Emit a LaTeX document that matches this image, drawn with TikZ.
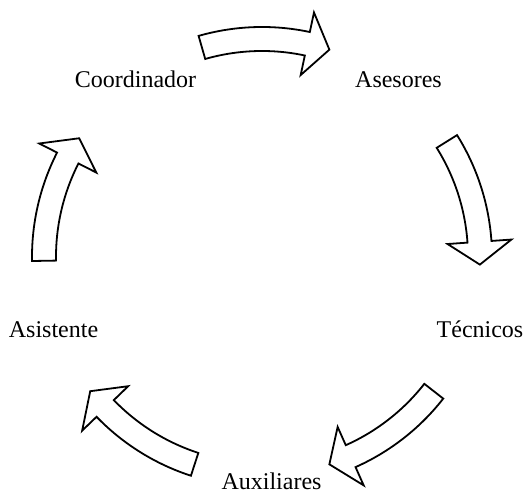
\documentclass[tikz,border=0pt]{standalone}
\usepackage{fontspec}
\setmainfont{Liberation Serif}

\tikzset{
  flecha/.style={draw=black, fill=white, line width=1.8pt, line join=miter},
  rotulo/.style={font=\fontsize{24}{28}\selectfont, anchor=base, inner sep=0pt}
}

% flecha curva alrededor del centro: #1 = angulo medio
\newcommand{\flechaciclo}[1]{%
  \draw[flecha] (#1+17:230pt) arc[start angle=#1+17, end angle=#1-11, radius=230pt]
    -- (#1-11:250pt) -- (#1-17:218pt) -- (#1-11:186pt) -- (#1-11:206pt)
    arc[start angle=#1-11, end angle=#1+17, radius=206pt] -- cycle;}

\begin{document}
\begin{tikzpicture}[x=1pt,y=1pt]

\useasboundingbox (0,0) rectangle (523,495);

% Puestos del ciclo
\node[rotulo] (coord) at (135.5,407) {Coordinador};
\node[rotulo] (ases)  at (398.5,407) {Asesores};
\node[rotulo] (tec)   at (480,157)   {Técnicos};
\node[rotulo] (aux)   at (271.5,5)   {Auxiliares};
\node[rotulo] (asis)  at (53.5,157)  {Asistente};

% Flechas (sentido horario)
\begin{scope}[shift={(262,238)}]
  \flechaciclo{89}
  \flechaciclo{15}
  \flechaciclo{-55}
  \flechaciclo{235}
  \flechaciclo{164}
\end{scope}

\end{tikzpicture}
\end{document}
